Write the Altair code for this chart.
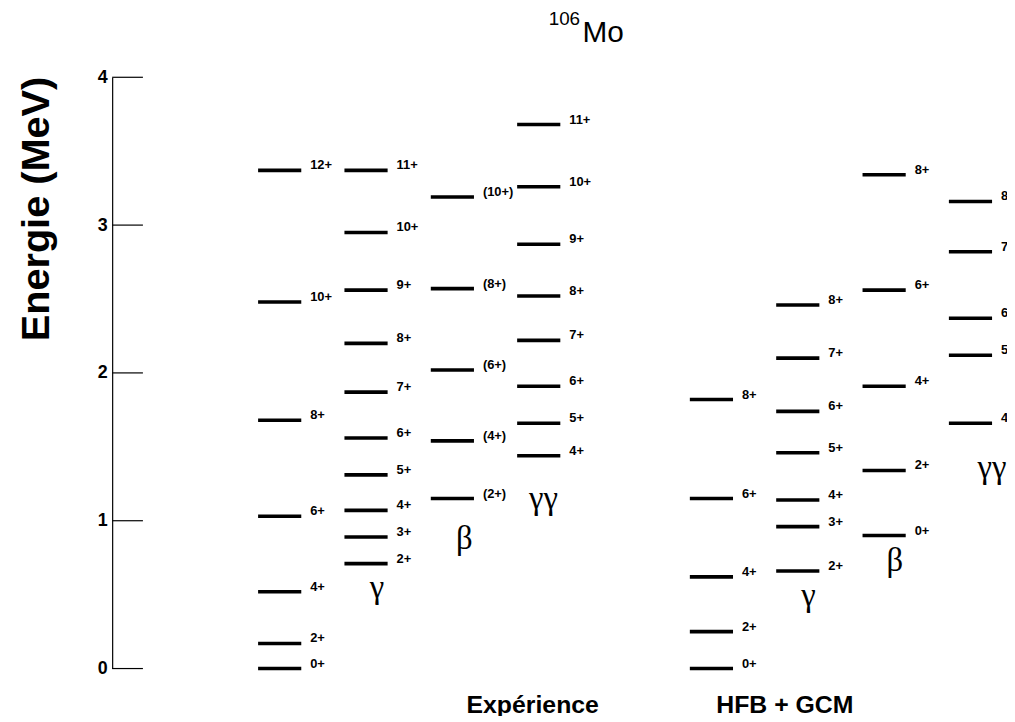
import altair as alt
import pandas as pd

# ---- data: level energies (MeV) and spin labels, per band ----
exp_gsb_spin = ["0+", "2+", "4+", "6+", "8+", "10+", "12+"]
exp_gsb_E = [0.0, 0.17, 0.52, 1.03, 1.68, 2.48, 3.37]

exp_gam_spin = ["2+", "3+", "4+", "5+", "6+", "7+", "8+", "9+", "10+", "11+"]
exp_gam_E = [0.71, 0.89, 1.07, 1.31, 1.56, 1.87, 2.20, 2.56, 2.95, 3.37]

exp_beta_spin = ["(2+)", "(4+)", "(6+)", "(8+)", "(10+)"]
exp_beta_E = [1.15, 1.54, 2.02, 2.57, 3.19]

exp_gg_spin = ["4+", "5+", "6+", "7+", "8+", "9+", "10+", "11+"]
exp_gg_E = [1.44, 1.66, 1.91, 2.22, 2.52, 2.87, 3.26, 3.68]

th_gsb_spin = ["0+", "2+", "4+", "6+", "8+"]
th_gsb_E = [0.0, 0.25, 0.62, 1.15, 1.82]

th_gam_spin = ["2+", "3+", "4+", "5+", "6+", "7+", "8+"]
th_gam_E = [0.66, 0.96, 1.14, 1.46, 1.74, 2.10, 2.46]

th_beta_spin = ["0+", "2+", "4+", "6+", "8+"]
th_beta_E = [0.90, 1.34, 1.91, 2.56, 3.34]

th_gg_spin = ["4+", "5+", "6+", "7+", "8+"]
th_gg_E = [1.66, 2.12, 2.37, 2.82, 3.16]

bands = [
    (0, exp_gsb_spin, exp_gsb_E),
    (1, exp_gam_spin, exp_gam_E),
    (2, exp_beta_spin, exp_beta_E),
    (3, exp_gg_spin, exp_gg_E),
    (5, th_gsb_spin, th_gsb_E),
    (6, th_gam_spin, th_gam_E),
    (7, th_beta_spin, th_beta_E),
    (8, th_gg_spin, th_gg_E),
]

rows = []
for slot, spins, energies in bands:
    for s, e in zip(spins, energies):
        rows.append({"slot": slot, "x0": slot - 0.25, "x1": slot + 0.25, "E": e, "spin": s})
levels = pd.DataFrame(rows)

band_names = ["γ", "β", "γγ", "γ", "β", "γγ"]
band_x = [1.126, 2.137, 3.056, 6.124, 7.124, 8.25]
band_y = [0.544, 0.879, 1.148, 0.490, 0.725, 1.356]
names = pd.DataFrame({"t": band_names, "x": band_x, "y": band_y})

group_names = ["Expérience", "HFB + GCM"]
group_x = [2.93, 5.85]
group_y = [-0.245, -0.245]
groups = pd.DataFrame({"t": group_names, "x": group_x, "y": group_y})

tick_vals = [0, 1, 2, 3, 4]
ticks = pd.DataFrame({"v": tick_vals})

xs = alt.Scale(domain=[-1.94, 8.423], nice=False, zero=False)
ys = alt.Scale(domain=[0, 4], nice=False, zero=False)

FONT = "Liberation Sans"

base = alt.Chart(levels)

lines = base.mark_rule(color="black", strokeWidth=3.6).encode(
    x=alt.X("x0:Q", scale=xs, axis=None),
    x2="x1:Q",
    y=alt.Y(
        "E:Q",
        scale=ys,
        axis=alt.Axis(
            values=tick_vals,
            format="d",
            title="Energie (MeV)",
            titleFont=FONT,
            titleFontSize=40,
            titleFontWeight="bold",
            titleColor="black",
            titleAngle=-90,
            titleAlign="right",
            titleBaseline="middle",
            titleX=-76,
            titleY=-1,
            labelFont=FONT,
            labelFontSize=18,
            labelFontWeight="bold",
            labelColor="black",
            labelPadding=5,
            ticks=False,
            grid=False,
            domain=True,
            domainColor="black",
            domainWidth=1.2,
        ),
    ),
)

labels = base.mark_text(
    align="left", baseline="middle", dx=9, dy=-5, font=FONT, fontSize=13,
    fontWeight="bold", color="black", clip=True,
).encode(x=alt.X("x1:Q", scale=xs, axis=None), y=alt.Y("E:Q", scale=ys), text="spin:N")

tick_rules = alt.Chart(ticks).mark_rule(color="black", strokeWidth=1.2).encode(
    x=alt.value(0), x2=alt.value(31), y=alt.Y("v:Q", scale=ys)
)

greek = alt.Chart(names).mark_text(
    align="center", baseline="middle", font="Liberation Serif", fontSize=33, color="black"
).encode(x=alt.X("x:Q", scale=xs, axis=None), y=alt.Y("y:Q", scale=ys), text="t:N")

group_text = alt.Chart(groups).mark_text(
    align="center", baseline="middle", font=FONT, fontSize=25, fontWeight="bold", color="black"
).encode(x=alt.X("x:Q", scale=xs, axis=None), y=alt.Y("y:Q", scale=ys), text="t:N")

title_df = pd.DataFrame({"a": ["106"], "b": ["Mo"]})
title_sup = alt.Chart(title_df).mark_text(
    align="left", baseline="alphabetic", font=FONT, fontSize=19, color="black"
).encode(x=alt.value(440), y=alt.value(-53), text="a:N")
title_main = alt.Chart(title_df).mark_text(
    align="left", baseline="alphabetic", font=FONT, fontSize=30, color="black"
).encode(x=alt.value(474), y=alt.value(-36), text="b:N")

chart = (
    alt.layer(lines, labels, tick_rules, greek, group_text, title_sup, title_main)
    .properties(
        width=902,
        height=596,
        background="white",
        autosize=alt.AutoSizeParams(type="none"),
        padding={"left": 105, "top": 67, "right": 0, "bottom": 45},
    )
    .configure_view(strokeWidth=0, strokeOpacity=0)
)

chart.save("out.html", embed_options={"renderer": "svg", "actions": False})
